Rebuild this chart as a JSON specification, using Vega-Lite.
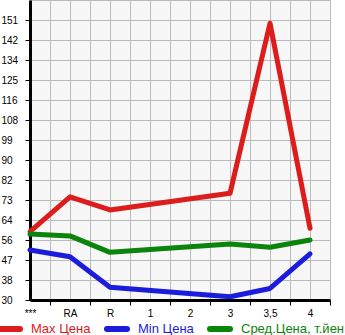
{
  "$schema": "https://vega.github.io/schema/vega-lite/v6.json",
  "width": 300,
  "height": 300,
  "autosize": {"type": "none"},
  "padding": {"left": 30, "top": 0, "right": 15, "bottom": 35},
  "background": "white",
  "config": {
    "view": {"fill": "#f7f7f7", "stroke": "#bbbbbb", "strokeWidth": 1},
    "font": "Liberation Sans"
  },
  "data": {
    "values": [
      {"cat": "***", "series": "Max Цена", "value": 59.5},
      {"cat": "RA", "series": "Max Цена", "value": 74.6},
      {"cat": "R", "series": "Max Цена", "value": 68.9},
      {"cat": "3", "series": "Max Цена", "value": 76.1},
      {"cat": "3,5", "series": "Max Цена", "value": 149.6},
      {"cat": "4", "series": "Max Цена", "value": 61.0},
      {"cat": "***", "series": "Min Цена", "value": 51.6},
      {"cat": "RA", "series": "Min Цена", "value": 48.7},
      {"cat": "R", "series": "Min Цена", "value": 35.5},
      {"cat": "3", "series": "Min Цена", "value": 31.4},
      {"cat": "3,5", "series": "Min Цена", "value": 35.0},
      {"cat": "4", "series": "Min Цена", "value": 49.9},
      {"cat": "***", "series": "Сред.Цена, т.йен", "value": 58.5},
      {"cat": "RA", "series": "Сред.Цена, т.йен", "value": 57.7},
      {"cat": "R", "series": "Сред.Цена, т.йен", "value": 50.6},
      {"cat": "3", "series": "Сред.Цена, т.йен", "value": 54.2},
      {"cat": "3,5", "series": "Сред.Цена, т.йен", "value": 52.8},
      {"cat": "4", "series": "Сред.Цена, т.йен", "value": 55.9}
    ]
  },
  "mark": {"type": "line", "strokeWidth": 5, "strokeCap": "round", "strokeJoin": "round"},
  "encoding": {
    "x": {
      "field": "cat",
      "type": "nominal",
      "scale": {
        "type": "point",
        "padding": 0,
        "domain": ["***", " ", "RA", "  ", "R", "   ", "1", "    ", "2", "     ", "3", "      ", "3,5", "       ", "4", "        "]
      },
      "axis": {
        "title": null,
        "labelAngle": 0,
        "labelFont": "Liberation Sans",
        "labelFontSize": 10,
        "labelColor": "black",
        "labelPadding": 3,
        "domainColor": "black",
        "domainWidth": 3,
        "tickColor": "black",
        "tickSize": 5,
        "tickWidth": 1,
        "tickOpacity": {"condition": {"test": "trim(datum.value) == ''", "value": 1}, "value": 0},
        "grid": true,
        "gridColor": "#bbbbbb",
        "gridWidth": 1
      }
    },
    "y": {
      "field": "value",
      "type": "quantitative",
      "scale": {"domain": [30, 159.642857], "nice": false, "zero": false},
      "axis": {
        "title": null,
        "values": [30, 38.642857, 47.285714, 55.928571, 64.571429, 73.214286, 81.857143, 90.5, 99.142857, 107.785714, 116.428571, 125.071429, 133.714286, 142.357143, 151],
        "labelExpr": "['30','38','47','56','64','73','82','90','99','108','116','125','134','142','151'][round((datum.value-30)/8.642857)]",
        "labelFont": "Liberation Sans",
        "labelFontSize": 10,
        "labelColor": "black",
        "labelAlign": "left",
        "labelPadding": 24,
        "domainColor": "black",
        "domainWidth": 3,
        "tickColor": "black",
        "tickSize": 5,
        "tickWidth": 1,
        "grid": true,
        "gridColor": "#bbbbbb",
        "gridWidth": 1
      }
    },
    "color": {
      "field": "series",
      "type": "nominal",
      "scale": {
        "domain": ["Max Цена", "Min Цена", "Сред.Цена, т.йен"],
        "range": ["#dd1c1c", "#1c1cdd", "#0a840a"]
      },
      "legend": {
        "title": null,
        "orient": "none",
        "legendX": -33,
        "legendY": 316,
        "direction": "horizontal",
        "symbolType": "stroke",
        "symbolSize": 400,
        "symbolStrokeWidth": 6,
        "labelFont": "Liberation Sans",
        "labelFontSize": 13,
        "labelOffset": 8,
        "columnPadding": 4,
        "gridAlign": "none",
        "labelLimit": 200,
        "encode": {
          "symbols": {"update": {"strokeCap": {"value": "round"}}},
          "labels": {"update": {"fill": {"scale": "color", "field": "value"}}}
        }
      }
    },
    "order": {"value": null}
  }
}
